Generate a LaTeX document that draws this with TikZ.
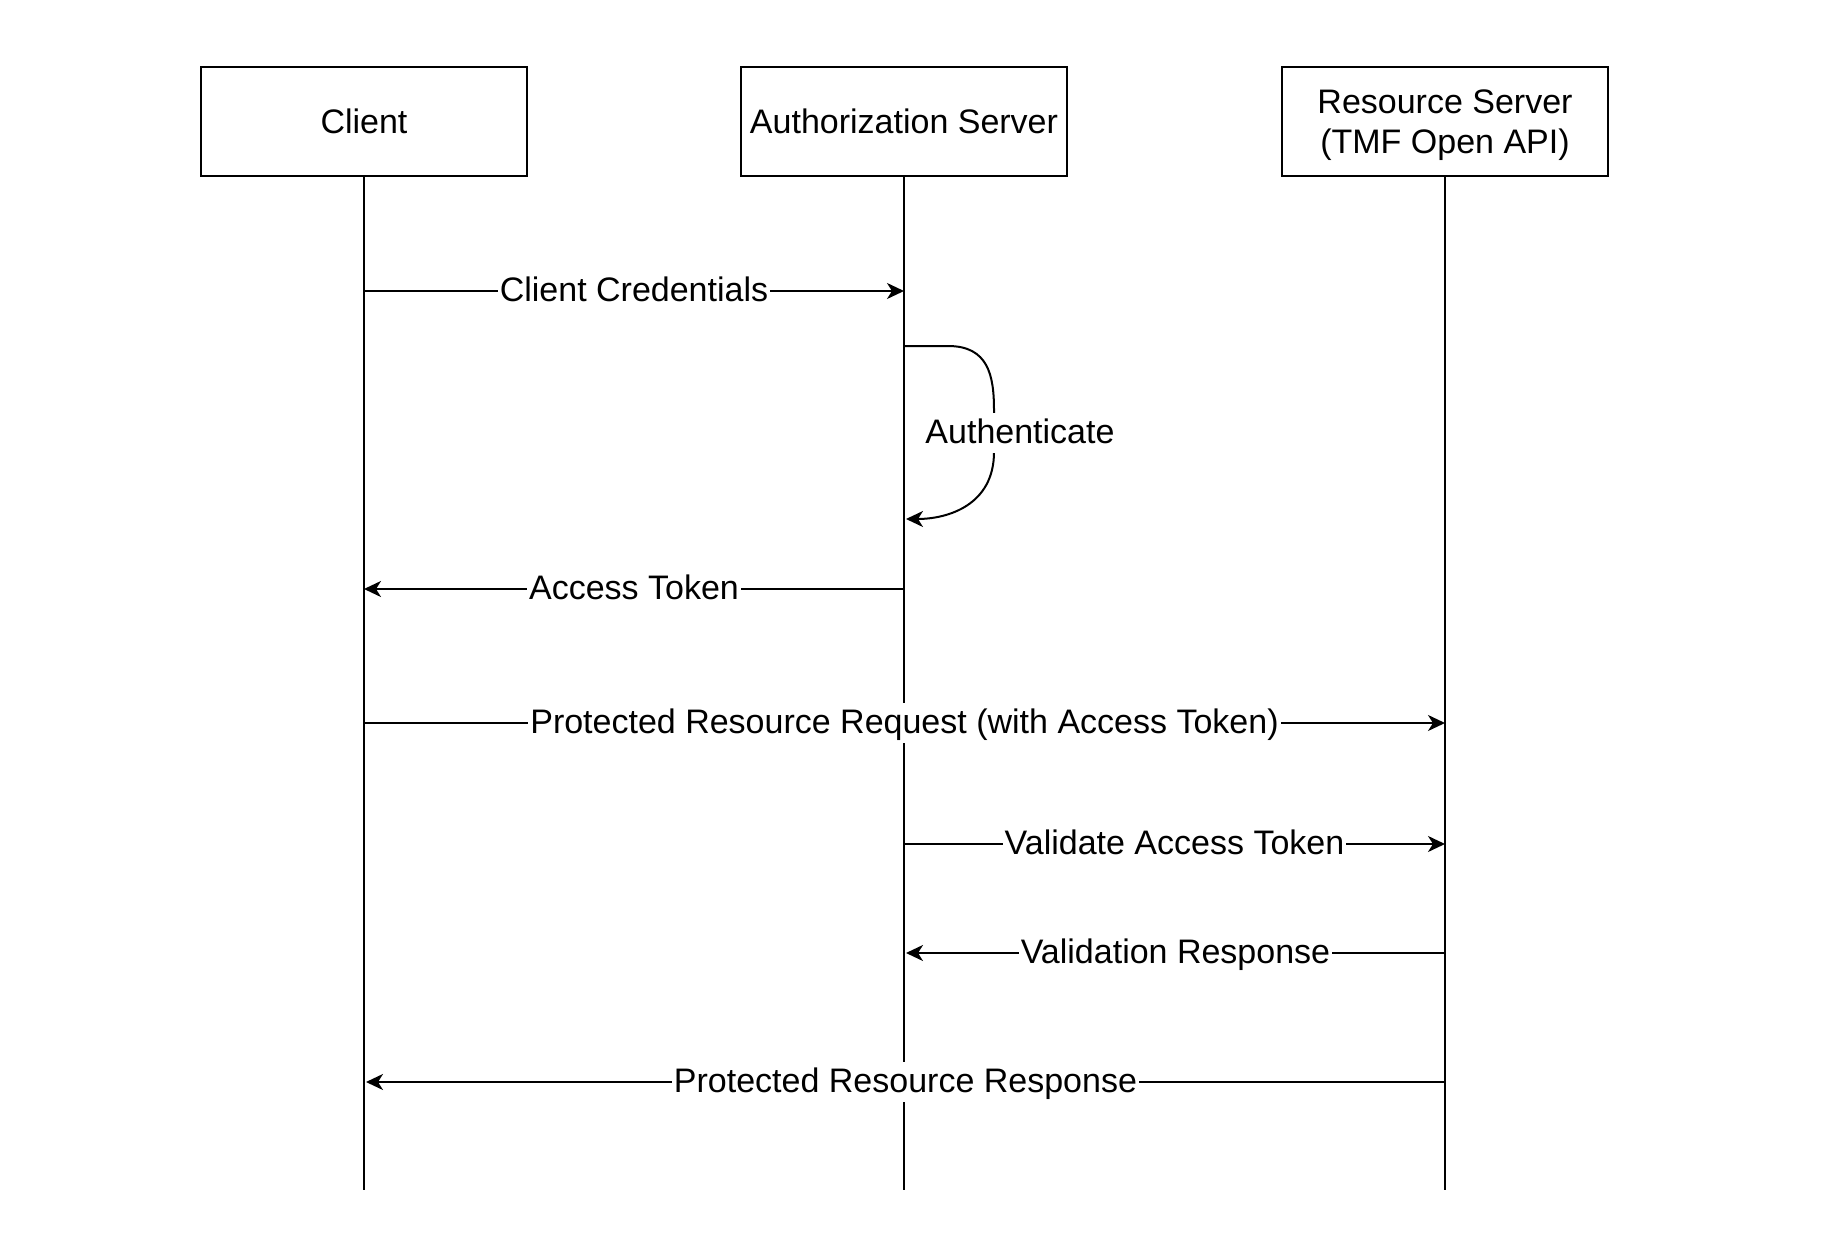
\documentclass[tikz,border=0pt]{standalone}
\usepackage{fontspec}
\setmainfont{Liberation Sans}
\usetikzlibrary{arrows.meta}
\begin{document}
\begin{tikzpicture}[x=0.5pt,y=-0.5pt,
  actor/.style={draw=black, line width=1pt, fill=white, minimum width=163pt, minimum height=54.5pt, inner sep=0pt, align=center, font=\fontsize{17}{20}\selectfont},
  actortext/.style={inner sep=0pt, align=center, font=\fontsize{17}{20}\selectfont},
  life/.style={line width=1pt},
  msg/.style={line width=1pt, -{Stealth[length=8.5pt,width=8pt,inset=2.5pt]}},
  lbl/.style={fill=white, inner xsep=1pt, inner ysep=0pt, text height=15pt, text depth=5pt, font=\fontsize{17}{20}\selectfont}]
\useasboundingbox (0,0) rectangle (1838,1252);

% actors
\node[actor] (client) at (364,121.5) {Client};
\node[actor] (auth) at (904,121.5) {Authorization Server};
\node[actor] (res) at (1445,121.5) {};
\node[actortext] (restext) at (1445,125) {Resource Server\\(TMF Open API)};

% lifeline ends
\coordinate (cEnd) at (364,1190);
\coordinate (aEnd) at (904,1190);
\coordinate (rEnd) at (1445,1190);
\draw[life] (client.south) -- (cEnd);
\draw[life] (auth.south) -- (aEnd);
\draw[life] (res.south) -- (rEnd);

% message anchors
\coordinate (c1) at (364,291);  \coordinate (a1) at (904,291);
\coordinate (a2s) at (904,346); \coordinate (a2e) at (906,519);
\coordinate (a3) at (904,589);  \coordinate (c3) at (364,589);
\coordinate (c4) at (364,723);  \coordinate (r4) at (1445,723);
\coordinate (a5) at (904,844);  \coordinate (r5) at (1445,844);
\coordinate (r6) at (1445,953); \coordinate (a6) at (906,953);
\coordinate (r7) at (1445,1082);\coordinate (c7) at (366,1082);

\draw[msg] (c1) -- (a1) node[lbl, midway] {Client Credentials};
\draw[msg] (a2s) -- (948,346) .. controls (988,346) and (994,375) .. (994,410)
      -- (994,452) .. controls (994,505) and (948,519) .. (a2e);
\node[lbl] (authlbl) at (1020,433) {Authenticate};
\draw[msg] (a3) -- (c3) node[lbl, midway] {Access Token};
\draw[msg] (c4) -- (r4) node[lbl, midway] {Protected Resource Request (with Access Token)};
\draw[msg] (a5) -- (r5) node[lbl, midway] {Validate Access Token};
\draw[msg] (r6) -- (a6) node[lbl, midway] {Validation Response};
\draw[msg] (r7) -- (c7) node[lbl, midway] {Protected Resource Response};
\end{tikzpicture}
\end{document}
